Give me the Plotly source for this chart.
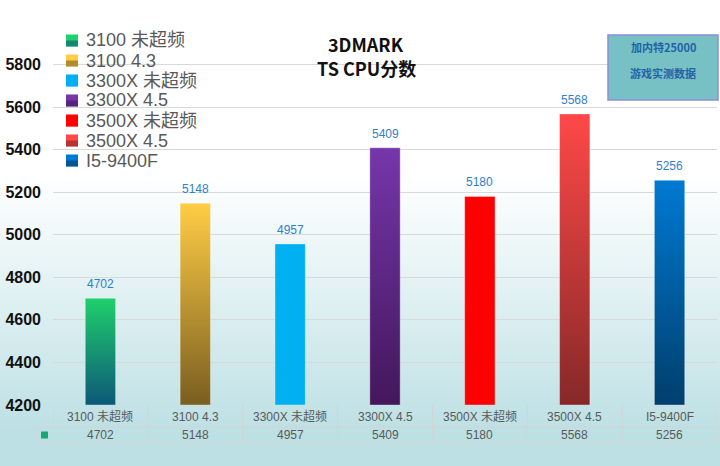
import plotly.graph_objects as go

categories = ["3100 未超频", "3100 4.3", "3300X 未超频", "3300X 4.5", "3500X 未超频", "3500X 4.5", "I5-9400F"]
scores = [4702, 5148, 4957, 5409, 5180, 5568, 5256]
top_colors = ["#1fd06c", "#ffcd45", "#00b0f0", "#7636aa", "#ff0000", "#ff4848", "#0079d2"]
bottom_colors = ["#0c5878", "#7a5e20", "#00b0f0", "#43175c", "#ff0000", "#862828", "#003f6c"]
y_ticks = [4200, 4400, 4600, 4800, 5000, 5200, 5400, 5600, 5800]
title_lines = ["3DMARK", "TS CPU分数"]
box_lines = ["加内特25000", "游戏实测数据"]

Y_MIN, Y_MAX = 4200, 6000
W, H = 720, 466
ML, MR, MT, MB = 53, 3, 22, 61
PW, PH = W - ML - MR, H - MT - MB


def px_to_py(py):
    return (H - MB - py) / PH


def px_to_px(px):
    return (px - ML) / PW


fig = go.Figure()

half = 0.16
for i, (cat, v) in enumerate(zip(categories, scores)):
    fig.add_trace(go.Scatter(
        x=[i - half, i + half, i + half, i - half, i - half],
        y=[Y_MIN, Y_MIN, v, v, Y_MIN],
        mode="lines", fill="toself", name=cat,
        line=dict(color="rgba(255,255,255,0.35)", width=1),
        fillgradient=dict(type="vertical", colorscale=[[0, bottom_colors[i]], [1, top_colors[i]]]),
        showlegend=False, hoverinfo="skip",
    ))

shapes = []
# background gradient
g_start, g_end = 175, 430
c0 = (255, 255, 255)
c1 = (189, 224, 228)
step = 3
py = 0
while py < H:
    t = min(max((py - g_start) / (g_end - g_start), 0), 1)
    c = tuple(round(c0[k] + (c1[k] - c0[k]) * t) for k in range(3))
    shapes.append(dict(type="rect", xref="paper", yref="paper",
                       x0=px_to_px(-2), x1=px_to_px(W + 2),
                       y0=px_to_py(py + step + 0.5), y1=px_to_py(py),
                       fillcolor="rgb(%d,%d,%d)" % c, line=dict(width=0), layer="below"))
    py += step

line_col = "#d4d4d4"
row1_bot = 427
row2_bot = 443
key_left = 37
for yy, x0 in [(row1_bot, key_left), (row2_bot, key_left)]:
    shapes.append(dict(type="line", xref="paper", yref="paper",
                       x0=px_to_px(x0), x1=1, y0=px_to_py(yy), y1=px_to_py(yy),
                       line=dict(color=line_col, width=1)))
for i in range(len(categories) + 1):
    shapes.append(dict(type="line", xref="x", yref="paper",
                       x0=i - 0.5, x1=i - 0.5, y0=0, y1=px_to_py(row2_bot),
                       line=dict(color=line_col, width=1)))
shapes.append(dict(type="line", xref="paper", yref="paper",
                   x0=px_to_px(key_left), x1=px_to_px(key_left),
                   y0=px_to_py(row1_bot), y1=px_to_py(row2_bot),
                   line=dict(color=line_col, width=1)))
# key square in table
shapes.append(dict(type="rect", xref="paper", yref="paper",
                   x0=px_to_px(41), x1=px_to_px(48), y0=px_to_py(438.5), y1=px_to_py(431.5),
                   fillcolor="#17a870", line=dict(width=0)))
# info box
shapes.append(dict(type="rect", xref="paper", yref="paper",
                   x0=px_to_px(608), x1=px_to_px(718), y0=px_to_py(100), y1=px_to_py(35),
                   fillcolor="#77c1c5", line=dict(color="#8d8fd8", width=1.5)))

annotations = []
# legend built from categories
leg_top = 40.5
leg_step = 20
for i, cat in enumerate(categories):
    cy = leg_top + i * leg_step
    shapes.append(dict(type="rect", xref="paper", yref="paper",
                       x0=px_to_px(66), x1=px_to_px(78), y0=px_to_py(cy + 6), y1=px_to_py(cy - 6),
                       fillcolor=top_colors[i], line=dict(width=0)))
    shapes.append(dict(type="rect", xref="paper", yref="paper",
                       x0=px_to_px(66), x1=px_to_px(78), y0=px_to_py(cy + 6), y1=px_to_py(cy),
                       fillcolor=bottom_colors[i], opacity=0.6, line=dict(width=0)))
    annotations.append(dict(x=px_to_px(84), y=px_to_py(cy), xref="paper", yref="paper", text=cat,
                            xanchor="left", yanchor="middle", showarrow=False,
                            font=dict(family="Arial, Liberation Sans, Noto Sans CJK SC", size=18, color="#595959")))

for i, cat in enumerate(categories):
    annotations.append(dict(x=i, y=px_to_py(416.5), xref="x", yref="paper", text=cat,
                            xanchor="center", yanchor="middle", showarrow=False,
                            font=dict(family="Arial, Liberation Sans, Noto Sans CJK SC", size=12, color="#5a5a5a")))
    annotations.append(dict(x=i, y=px_to_py(435), xref="x", yref="paper", text=str(scores[i]),
                            xanchor="center", yanchor="middle", showarrow=False,
                            font=dict(family="Arial, Liberation Sans", size=12, color="#5a5a5a")))
    annotations.append(dict(x=i, y=scores[i], xref="x", yref="y", text=str(scores[i]),
                            xanchor="center", yanchor="bottom", yshift=5, showarrow=False,
                            font=dict(family="Arial, Liberation Sans", size=12, color="#2f7fca")))
for k, ty in enumerate([44, 68]):
    annotations.append(dict(x=px_to_px(366), y=px_to_py(ty), xref="paper", yref="paper", text=title_lines[k],
                            xanchor="center", yanchor="middle", showarrow=False,
                            font=dict(family="Noto Sans CJK SC", size=18, color="#111111", weight="bold")))
for k, ty in enumerate([47, 73]):
    annotations.append(dict(x=px_to_px(663), y=px_to_py(ty), xref="paper", yref="paper", text=box_lines[k],
                            xanchor="center", yanchor="middle", showarrow=False,
                            font=dict(family="Noto Sans CJK SC", size=11, color="#2462a8", weight="bold")))

fig.update_layout(
    width=W, height=H,
    margin=dict(l=ML, r=MR, t=MT, b=MB),
    paper_bgcolor="white", plot_bgcolor="rgba(0,0,0,0)",
    shapes=shapes, annotations=annotations,
    showlegend=False,
    xaxis=dict(range=[-0.5, len(categories) - 0.5], showticklabels=False, showgrid=False,
               zeroline=False, fixedrange=True),
    yaxis=dict(range=[Y_MIN, Y_MAX], tickvals=y_ticks, showgrid=True, gridcolor="#d9d9d9",
               gridwidth=1, zeroline=False, ticklabelstandoff=11,
               tickfont=dict(family="Arial, Liberation Sans", size=16, color="#111111", weight="bold")),
)

fig.write_html("out.html", config={"displayModeBar": False},
               post_script="document.body.style.margin='0';document.body.style.overflow='hidden';")
